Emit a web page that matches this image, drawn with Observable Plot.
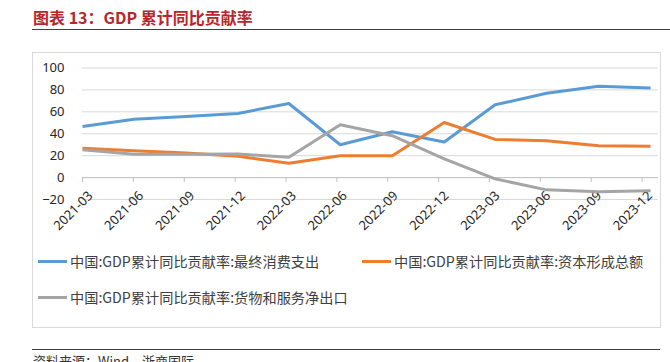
<!DOCTYPE html>
<html>
<head>
<meta charset="utf-8">
<script src="https://cdn.jsdelivr.net/npm/d3@7"></script>
<script src="https://cdn.jsdelivr.net/npm/@observablehq/plot@0.6"></script>
<style>
  html, body { margin: 0; padding: 0; background: #fff; }
  #page { position: relative; width: 670px; height: 362px; overflow: hidden; font-family: "Noto Sans CJK SC", "Noto Sans", sans-serif; }
  #title { position: absolute; left: 33px; top: 5px; font-size: 16px; font-weight: bold; color: #b8262c; line-height: 24px; white-space: nowrap; }
  #titleRule { position: absolute; left: 32px; top: 29px; width: 638px; height: 0; border-top: 1.5px solid #404040; }
  #frame { position: absolute; left: 32px; top: 52px; width: 627px; height: 274px; border: 1px solid #d9d9d9; }
  #chart { position: absolute; left: 0; top: 52px; }
  .legend { position: absolute; display: flex; align-items: center; font-size: 14.2px; color: #404040; white-space: nowrap; }
  .sw { display: inline-block; width: 29px; height: 3px; margin-right: 3px; }
  #bottomRule { position: absolute; left: 32px; top: 349px; width: 628px; height: 0; border-top: 1.5px solid #404040; }
  #source { position: absolute; left: 33px; top: 352px; font-size: 13px; line-height: 18px; color: #333; white-space: nowrap; }
</style>
</head>
<body>
<div id="page">
  <div id="title">图表 13：GDP 累计同比贡献率</div>
  <div id="titleRule"></div>
  <div id="frame"></div>
  <div id="chart"></div>
  <div id="legend"></div>
  <div id="bottomRule"></div>
  <div id="source">资料来源：Wind，浙商国际</div>
</div>
<script>
const quarters = ["2021-03","2021-06","2021-09","2021-12","2022-03","2022-06","2022-09","2022-12","2023-03","2023-06","2023-09","2023-12"];
const seriesNames = [
  "中国:GDP累计同比贡献率:最终消费支出",
  "中国:GDP累计同比贡献率:资本形成总额",
  "中国:GDP累计同比贡献率:货物和服务净出口"
];
const seriesColors = ["#5b9bd5", "#ed7d31", "#a5a5a5"];
const consumption = [46.7, 53.3, 55.8, 58.5, 67.6, 30.0, 41.8, 32.4, 66.4, 77.0, 83.3, 81.8];
const capital     = [26.7, 24.5, 22.4, 19.4, 13.0, 20.0, 20.0, 50.3, 34.8, 33.6, 29.1, 28.5];
const netExports  = [25.5, 21.2, 21.2, 21.5, 18.5, 48.2, 38.2, 17.0, -1.2, -11.2, -13.0, -12.1];
const yTicks = [-20, 0, 20, 40, 60, 80, 100];

const parseQ = d3.utcParse("%Y-%m");
const qEnd = q => d3.utcDay.offset(d3.utcMonth.offset(parseQ(q), 1), -1);
const dates = quarters.map(qEnd);
// Excel date axis: major unit of 90 days from the first point
const xTicks = d3.range(quarters.length).map(k => d3.utcDay.offset(dates[0], 90 * k));
const xDomain = [dates[0], d3.utcDay.offset(dates[dates.length - 1], 14)];

const values = [consumption, capital, netExports];
const rows = [];
values.forEach((arr, s) => arr.forEach((v, i) => rows.push({series: seriesNames[s], date: dates[i], value: v})));

const chart = Plot.plot({
  width: 670,
  height: 200,
  marginLeft: 82,
  marginRight: 12,
  marginTop: 15.5,
  marginBottom: 53,
  style: {fontFamily: "'Noto Sans', 'Noto Sans CJK SC', sans-serif", fontSize: "13px", color: "#404040", background: "transparent", overflow: "visible"},
  x: {type: "utc", domain: xDomain},
  y: {domain: [-20, 100]},
  color: {domain: seriesNames, range: seriesColors},
  marks: [
    Plot.ruleY(yTicks, {stroke: "#d9d9d9", strokeWidth: 1}),
    Plot.ruleY([0], {stroke: "#c0c0c0", strokeWidth: 1}),
    Plot.ruleX(xTicks, {y1: 0, y2: 0, insetBottom: -5, stroke: "#c0c0c0"}),
    Plot.axisY({ticks: yTicks, tickSize: 0, tickPadding: 18, label: null, fill: "#262626"}),
    Plot.axisX({ticks: xTicks, tickFormat: d3.utcFormat("%Y-%m"), tickRotate: -45, tickSize: 0, tickPadding: 0, dx: 8, dy: -6, label: null, fill: "#262626"}),
    Plot.line(rows, {x: "date", y: "value", z: "series", stroke: "series", strokeWidth: 3, strokeLinejoin: "round", strokeLinecap: "butt"})
  ]
});
document.getElementById("chart").appendChild(chart);

const legendPos = [[38, 261], [362, 261], [38, 297]];
const legend = document.getElementById("legend");
seriesNames.forEach((name, i) => {
  const el = document.createElement("div");
  el.className = "legend";
  el.style.left = legendPos[i][0] + "px";
  el.style.top = (legendPos[i][1] - 11) + "px";
  el.style.height = "22px";
  const sw = document.createElement("span");
  sw.className = "sw";
  sw.style.background = seriesColors[i];
  const t = document.createElement("span");
  t.textContent = name;
  el.appendChild(sw);
  el.appendChild(t);
  legend.appendChild(el);
});
</script>
</body>
</html>
